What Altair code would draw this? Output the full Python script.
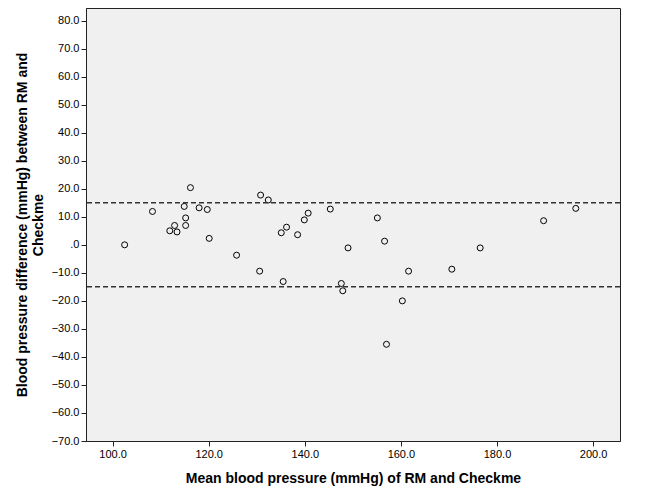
import altair as alt
import pandas as pd

mean_bp = [102.5, 108.3, 111.9, 112.9, 113.4, 114.9, 115.2, 115.2, 116.2, 118.0,
           119.7, 120.1, 125.8, 130.8, 132.4, 130.6, 135.1, 136.2, 135.5, 138.5,
           139.9, 140.7, 145.3, 149.0, 147.6, 147.9, 155.1, 156.6, 161.6, 160.3,
           157.0, 170.6, 176.5, 189.7, 196.4]
diff_bp = [0.0, 11.9, 5.0, 6.9, 4.6, 13.7, 9.6, 6.9, 20.4, 13.2,
           12.6, 2.3, -3.7, 17.75, 16.0, -9.4, 4.3, 6.3, -13.1, 3.6,
           8.9, 11.3, 12.75, -1.1, -13.8, -16.4, 9.6, 1.3, -9.4, -20.0,
           -35.5, -8.7, -1.1, 8.6, 13.0]
limits = [15.0, -15.0]

x_ticks = [100, 120, 140, 160, 180, 200]
y_ticks = [-70, -60, -50, -40, -30, -20, -10, 0, 10, 20, 30, 40, 50, 60, 70, 80]

df = pd.DataFrame({"mean": mean_bp, "diff": diff_bp})
lim_df = pd.DataFrame({"lim": limits})

x_scale = alt.Scale(domain=[94.46, 205.6], nice=False, zero=False)
y_scale = alt.Scale(domain=[-70, 84.5], nice=False, zero=False)

x_axis = alt.Axis(
    values=x_ticks, grid=False, format=".1f", labelOverlap=False,
    labelFlush=False,
    title="Mean blood pressure (mmHg) of RM and Checkme",
    titlePadding=12,
)
y_axis = alt.Axis(
    values=y_ticks, grid=False, labelOverlap=False, labelFlush=False,
    labelExpr="datum.value == 0 ? '.0' : format(datum.value, '.1f')",
    title=["Blood pressure difference (mmHg) between RM and", "Checkme"],
    titlePadding=6,
)

points = alt.Chart(df).mark_point(
    shape="circle", filled=False, size=36, color="black", strokeWidth=1, opacity=1
).encode(
    x=alt.X("mean:Q", scale=x_scale, axis=x_axis),
    y=alt.Y("diff:Q", scale=y_scale, axis=y_axis),
)

rules = alt.Chart(lim_df).mark_rule(
    strokeDash=[5, 3], color="#333333", strokeWidth=1.5
).encode(
    y=alt.Y("lim:Q", scale=y_scale, axis=y_axis)
)

chart = alt.layer(points, rules).properties(
    width=534, height=433,
    autosize="none",
    padding={"left": 78, "top": 0, "right": 6, "bottom": 60},
).configure_view(
    fill="#F0F0F0", stroke="#222222", strokeWidth=1
).configure_axis(
    domainColor="#222222", tickColor="#222222", tickSize=5,
    labelFont="Liberation Sans", labelFontSize=11, labelColor="black",
    titleFont="Liberation Sans", titleFontSize=14, titleFontWeight="bold",
    titleColor="black", labelPadding=2,
)

chart.save("out.html", embed_options={"renderer": "svg", "actions": False})
